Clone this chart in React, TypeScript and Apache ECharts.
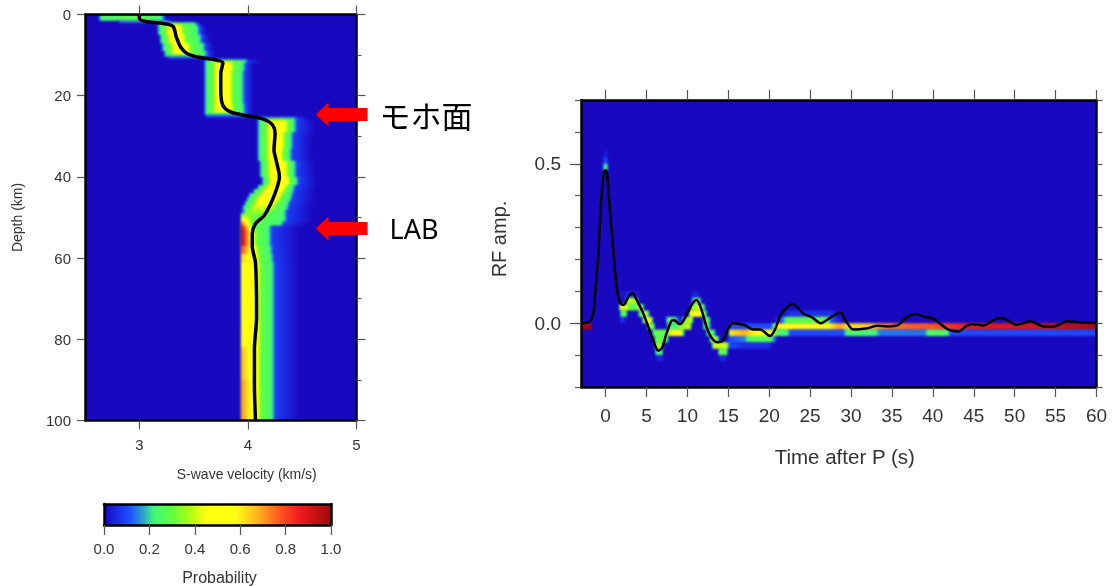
import React, { useEffect, useRef } from "react";
import * as echarts from "echarts";

// ---- colour scale ----
const probStops = [0, 0.08, 0.12, 0.18, 0.22, 0.3, 0.38, 0.45, 0.58, 0.68, 0.78, 0.86, 1];
const probColors = ["#1808c0", "#1c38f0", "#2058ff", "#30b0c0", "#40f878", "#60ff40", "#b0ff10", "#ffff10", "#ffff10", "#ffb020", "#ff5020", "#f01c20", "#a00808"];
const colorTicks = [0, 0.2, 0.4, 0.6, 0.8, 1];

// ---- velocity model panel: black profile ----
const profileV = [3.0, 3.0, 3.07, 3.22, 3.31, 3.34, 3.38, 3.44, 3.56, 3.69, 3.77, 3.75, 3.75, 3.77, 3.84, 3.96, 4.12, 4.22, 4.25, 4.24, 4.26, 4.29, 4.26, 4.21, 4.15, 4.07, 4.04, 4.04, 4.04, 4.07, 4.08, 4.06, 4.06, 4.07];
const profileD = [0.2, 1, 1.8, 2.2, 2.9, 5.5, 8, 9.6, 10.6, 11.1, 11.9, 14.5, 18.7, 22.4, 24, 24.8, 25.6, 27, 29.3, 33.4, 35.9, 40, 43.3, 46.6, 49.5, 51.5, 54, 54.7, 57.1, 61.2, 74.4, 82.6, 90.8, 100];

// ---- velocity model panel: probability bands, one entry per depth row ----
const bandTop =    [0, 1.4, 1.9, 2.4, 3, 5, 7, 9, 9.8, 10.3, 10.8, 11.2, 11.8, 14, 18, 22, 24, 24.6, 25.2, 25.6, 26.2, 29, 33, 36, 40, 42, 43, 44, 45, 46, 47, 48, 49, 50, 51, 52, 53, 57, 59, 61, 77, 82, 90];
const bandBottom = [1.4, 1.9, 2.4, 3, 5, 7, 9, 9.8, 10.3, 10.8, 11.2, 11.8, 14, 18, 22, 24, 24.6, 25.2, 25.6, 26.2, 29, 33, 36, 40, 42, 43, 44, 45, 46, 47, 48, 49, 50, 51, 52, 53, 57, 59, 61, 77, 82, 90, 100];
const bandStart =  [2.62, 2.8, 3.14, 3.16, 3.16, 3.18, 3.2, 3.22, 3.22, 3.25, 3.58, 3.59, 3.59, 3.59, 3.59, 3.59, 3.59, 3.6, 4.05, 4.08, 4.08, 4.08, 4.08, 4.1, 4.12, 4.08, 4.04, 4.0, 3.98, 3.96, 3.94, 3.93, 3.93, 3.93, 3.93, 3.93, 3.93, 3.93, 3.93, 3.93, 3.93, 3.93, 3.93];
const bandCoreL =  [2.88, 2.95, 3.27, 3.27, 3.27, 3.29, 3.32, 3.33, 3.33, 3.33, 3.65, 3.7, 3.71, 3.71, 3.71, 3.71, 3.71, 3.71, 4.12, 4.2, 4.2, 4.2, 4.2, 4.21, 4.22, 4.19, 4.16, 4.13, 4.1, 4.08, 4.06, 4.0, 3.94, 3.94, 3.94, 3.94, 3.94, 3.94, 3.94, 3.94, 3.94, 3.94, 3.94];
const bandCoreR =  [3.0, 3.05, 3.33, 3.37, 3.38, 3.4, 3.44, 3.46, 3.46, 3.46, 3.75, 3.84, 3.84, 3.83, 3.83, 3.84, 3.84, 3.84, 4.3, 4.33, 4.34, 4.31, 4.3, 4.34, 4.36, 4.33, 4.31, 4.29, 4.27, 4.24, 4.22, 4.15, 4.1, 4.05, 4.0, 4.03, 4.05, 4.07, 4.08, 4.09, 4.09, 4.09, 4.09];
const bandEnd =    [3.2, 3.25, 3.5, 3.52, 3.53, 3.55, 3.58, 3.6, 3.6, 3.6, 3.95, 3.97, 3.95, 3.94, 3.94, 3.95, 3.95, 3.95, 4.42, 4.42, 4.42, 4.39, 4.38, 4.42, 4.44, 4.41, 4.4, 4.39, 4.38, 4.36, 4.35, 4.33, 4.33, 4.33, 4.3, 4.19, 4.19, 4.2, 4.21, 4.22, 4.22, 4.22, 4.22];
const bandPeakL =  [0.28, 0.15, 0.25, 0.45, 0.5, 0.5, 0.5, 0.5, 0.3, 0.12, 0.1, 0.35, 0.5, 0.5, 0.5, 0.5, 0.3, 0.12, 0.15, 0.35, 0.5, 0.5, 0.5, 0.5, 0.5, 0.5, 0.5, 0.5, 0.5, 0.45, 0.42, 0.35, 0.36, 0.58, 0.78, 0.95, 0.97, 0.8, 0.65, 0.52, 0.6, 0.68, 0.72];
const bandPeakR =  [0.28, 0.15, 0.25, 0.45, 0.5, 0.5, 0.5, 0.5, 0.3, 0.12, 0.1, 0.35, 0.5, 0.5, 0.5, 0.5, 0.3, 0.12, 0.15, 0.35, 0.5, 0.5, 0.5, 0.5, 0.5, 0.5, 0.5, 0.5, 0.5, 0.45, 0.42, 0.35, 0.3, 0.28, 0.5, 0.45, 0.45, 0.45, 0.45, 0.46, 0.46, 0.46, 0.46];
const bandTail =   [3.25, 3.3, 3.55, 3.6, 3.62, 3.65, 3.68, 3.7, 3.7, 3.7, 4.0, 4.12, 4.05, 4.05, 4.05, 4.05, 4.05, 4.05, 4.55, 4.58, 4.62, 4.6, 4.6, 4.62, 4.64, 4.64, 4.62, 4.62, 4.62, 4.62, 4.6, 4.6, 4.6, 4.6, 4.55, 4.5, 4.48, 4.48, 4.48, 4.48, 4.48, 4.48, 4.48];

// ---- receiver function panel: black trace ----
const rfTime = [-3, -2, -1.5, -1.3, -0.9, -0.5, -0.2, 0, 0.2, 0.5, 0.95, 1.35, 1.75, 2.2, 2.8, 3.3, 3.8, 4.6, 5.2, 5.8, 6.45, 6.9, 7.4, 8, 8.3, 9.1, 9.7, 10.5, 11.1, 11.6, 12.4, 13, 13.7, 14.4, 15, 15.6, 16.9, 18.1, 18.9, 20.1, 20.7, 21.5, 22.9, 24.2, 25.2, 26.3, 27.4, 28.7, 29.3, 30.3, 32, 33.2, 34.4, 35.8, 36.8, 37.9, 38.9, 40.1, 40.9, 41.9, 43.2, 44, 44.8, 46.2, 47.2, 48.3, 49.3, 50.2, 51.9, 53.6, 54.8, 56.4, 58, 60];
const rfAmp = [0, 0.005, 0.03, 0.083, 0.21, 0.396, 0.47, 0.48, 0.464, 0.365, 0.23, 0.115, 0.065, 0.057, 0.083, 0.094, 0.073, 0.031, -0.01, -0.052, -0.086, -0.078, -0.036, 0.005, 0.01, -0.003, 0.016, 0.057, 0.073, 0.052, -0.016, -0.047, -0.06, -0.052, -0.016, 0, -0.005, -0.02, -0.02, -0.04, -0.02, 0.03, 0.06, 0.03, 0.019, 0, 0.016, 0.034, 0.01, -0.02, -0.016, -0.008, -0.01, -0.005, 0.019, 0.029, 0.021, 0.014, -0.002, -0.02, -0.026, -0.01, -0.003, -0.007, 0.007, 0.017, 0.007, -0.005, 0.006, -0.01, -0.01, 0.006, 0.003, 0.001];

// ---- receiver function panel: probability, [time, probability] knots per amplitude row ----
const rowLow = [0.52, 0.5, 0.48, 0.08, 0.06, 0.04, 0.02, 0, -0.02, -0.04, -0.06, -0.08, -0.1, -0.12];
const rowKnots = [
  [[-0.3, 0], [0, 0.05], [0.3, 0]],
  [[-0.4, 0], [0, 0.12], [0.4, 0]],
  [[-0.4, 0], [-0.1, 0.28], [0.1, 0.28], [0.4, 0]],
  [[1.5, 0], [3, 0.06], [4.5, 0], null, [10.4, 0], [11, 0.06], [11.6, 0]],
  [[2.4, 0], [2.7, 0.36], [3.7, 0.4], [4.1, 0], null, [10.4, 0], [10.8, 0.25], [11.5, 0.25], [11.8, 0]],
  [[1.6, 0], [1.8, 0.42], [2.6, 0.42], [3, 0.28], [3.7, 0.28], [4, 0.38], [4.5, 0.3], [4.8, 0], null, [10.3, 0], [10.6, 0.35], [11.5, 0.42], [12, 0.25], [12.3, 0]],
  [[1.7, 0], [1.9, 0.25], [2.5, 0.3], [2.7, 0], null, [3.9, 0], [4.2, 0.3], [5, 0.4], [5.5, 0], null, [10.1, 0], [10.4, 0.45], [11.5, 0.45], [12.2, 0.3], [12.5, 0], null, [21.5, 0], [22.5, 0.07], [27.5, 0.07], [28.5, 0]],
  [[1.7, 0], [2, 0.08], [2.6, 0], null, [4.4, 0], [4.7, 0.4], [5.5, 0.45], [5.9, 0], null, [7.3, 0], [7.6, 0.28], [8.6, 0.2], [9, 0.05], [9.4, 0.1], [9.7, 0.35], [10.5, 0.4], [10.8, 0], null, [11.8, 0], [12.1, 0.3], [12.6, 0.3], [12.9, 0], null, [20.5, 0], [21.5, 0.1], [22.2, 0.28], [27, 0.28], [27.6, 0.12], [29, 0]],
  [[-3, 1], [-1.7, 1], null, [5, 0], [5.3, 0.35], [5.9, 0.3], [6.1, 0], null, [7.4, 0], [7.7, 0.25], [8.6, 0.22], [9.5, 0.38], [10.3, 0.4], [10.6, 0], null, [11.8, 0], [12.1, 0.28], [12.6, 0.25], [13, 0], null, [15, 0], [15.4, 0.1], [20.2, 0.1], [20.7, 0.3], [21.2, 0.6], [23, 0.55], [25, 0.5], [26, 0.48], [27.5, 0.6], [28.5, 0.7], [29.5, 0.62], [32, 0.65], [35, 0.75], [40, 0.78], [42, 0.82], [45, 0.88], [50, 0.9], [55, 0.93], [60, 0.98]],
  [[5.6, 0], [5.9, 0.3], [6.5, 0.3], [7, 0.28], [7.6, 0.32], [8.2, 0.5], [9.2, 0.5], [9.6, 0.15], [9.8, 0], null, [12.2, 0], [12.5, 0.28], [13.2, 0.25], [13.6, 0], null, [15, 0], [15.3, 0.6], [16, 0.65], [17, 0.68], [18, 0.6], [19, 0.52], [20, 0.55], [20.6, 0.4], [21.2, 0.22], [22.2, 0.22], [22.6, 0.1], [29, 0.1], [29.5, 0.24], [33, 0.22], [33.6, 0.14], [39, 0.14], [39.5, 0.25], [41.7, 0.25], [42.2, 0.1], [60, 0.1]],
  [[5.9, 0], [6.1, 0.3], [7.5, 0.28], [7.8, 0], null, [12.6, 0], [13, 0.4], [13.6, 0.35], [14, 0], null, [15, 0.1], [17, 0.15], [17.5, 0.25], [20, 0.28], [20.6, 0.15], [21, 0]],
  [[5.9, 0], [6.2, 0.38], [6.9, 0.35], [7.1, 0], null, [13, 0.1], [13.2, 0.4], [14.8, 0.4], [15.1, 0.1], [17, 0.06], [20, 0.06], [20.5, 0]],
  [[6, 0], [6.2, 0.25], [6.9, 0.25], [7.1, 0], null, [13.7, 0], [13.9, 0.3], [14.8, 0.3], [15, 0]],
  [[6.1, 0], [6.3, 0.05], [6.9, 0.05], [7.1, 0], null, [13.8, 0], [14, 0.05], [14.7, 0.05], [14.9, 0]],
];

// ---- axes ----
const velTicks = [3, 4, 5];
const depthMajor = [0, 20, 40, 60, 80, 100];
const depthMinor = [10, 30, 50, 70, 90];
const timeTicks = [0, 5, 10, 15, 20, 25, 30, 35, 40, 45, 50, 55, 60];
const ampLabels = [0, 0.5];
const ampTicks = [-0.2, -0.1, 0, 0.1, 0.2, 0.3, 0.4, 0.5, 0.6, 0.7];

const FONT = "'Liberation Sans', Arial, sans-serif";
const TEXT = "#333333";
const TICK = "#555555";
const DEEP = "#1808c0";

function probColor(p: number) {
  const c = Math.max(0, Math.min(1, p));
  let i = 0;
  while (i < probStops.length - 2 && c > probStops[i + 1]) i++;
  const t = (c - probStops[i]) / (probStops[i + 1] - probStops[i]);
  const hex = (s: string) => [1, 3, 5].map((k) => parseInt(s.slice(k, k + 2), 16));
  const a = hex(probColors[i]);
  const b = hex(probColors[i + 1]);
  const m = a.map((v, k) => Math.round(v + (b[k] - v) * t));
  return `rgb(${m[0]},${m[1]},${m[2]})`;
}

// Gradient stops along [x, p] knots; the colour scale is sampled inside each stretch.
function gradient(knots: number[][]) {
  const x0 = knots[0][0];
  const span = knots[knots.length - 1][0] - x0 || 1;
  const colorStops: { offset: number; color: string }[] = [];
  for (let i = 0; i < knots.length - 1; i++) {
    const [xa, pa] = knots[i];
    const [xb, pb] = knots[i + 1];
    const n = 8;
    for (let k = 0; k <= n; k++) {
      const f = k / n;
      const off = (xa + (xb - xa) * f - x0) / span;
      colorStops.push({ offset: Math.max(0, Math.min(1, off)), color: probColor(pa + (pb - pa) * f) });
    }
  }
  return { type: "linear", x: 0, y: 0, x2: 1, y2: 0, colorStops };
}

function bandKnots(i: number) {
  const pl = bandPeakL[i];
  const pr = bandPeakR[i];
  const knots: number[][] = [[bandStart[i], 0]];
  if (bandCoreL[i] - bandStart[i] > 0.08) {
    knots.push([bandStart[i] + 0.025, Math.min(0.23, pl)], [bandCoreL[i] - 0.03, Math.min(0.3, pl)]);
  }
  knots.push([bandCoreL[i], pl], [bandCoreR[i], pr]);
  if (bandEnd[i] - bandCoreR[i] > 0.08) knots.push([bandCoreR[i] + 0.03, Math.min(0.3, pr)]);
  knots.push([bandEnd[i], Math.min(0.23, pr)], [bandEnd[i] + 0.035, Math.min(0.085, pr)], [bandTail[i], 0]);
  return knots;
}

const rfSegments: { low: number; knots: number[][] }[] = [];
rowKnots.forEach((row: any[], r) => {
  let cur: number[][] = [];
  row.forEach((k) => {
    if (k === null) {
      rfSegments.push({ low: rowLow[r], knots: cur });
      cur = [];
    } else cur.push(k);
  });
  if (cur.length) rfSegments.push({ low: rowLow[r], knots: cur });
});

const hiddenAxis = { axisLabel: { show: false }, splitLine: { show: false } };
const line = { show: true, onZero: false, lineStyle: { color: "#000", width: 2.5 } };
const noLine = { show: false, onZero: false };
const ticks = (values: number[], length: number, width = 1.2) => ({
  show: true,
  length,
  customValues: values,
  lineStyle: { color: TICK, width },
});

const plotGrids = [
  { left: 85, top: 14.5, width: 271.5, height: 406 },
  { left: 581, top: 100, width: 515.5, height: 287 },
];

function App() {
  const heatRef = useRef<HTMLDivElement>(null);
  const ref = useRef<HTMLDivElement>(null);
  useEffect(() => {
    // Soft probability images, underneath.
    const heat = echarts.init(heatRef.current!, null, { renderer: "svg" });
    const hidden = { type: "value", show: false };
    heat.setOption({
      animation: false,
      grid: plotGrids,
      xAxis: [
        { ...hidden, gridIndex: 0, min: 2.5, max: 5 },
        { ...hidden, gridIndex: 1, min: -3, max: 60 },
      ],
      yAxis: [
        { ...hidden, gridIndex: 0, min: 0, max: 100, inverse: true },
        { ...hidden, gridIndex: 1, min: -0.2, max: 0.7 },
      ],
      series: [
        {
          type: "custom", xAxisIndex: 0, yAxisIndex: 0, silent: true,
          data: bandTop.map((t, i) => [bandStart[i], t, i]),
          renderItem: (_p: any, api: any) => {
            const i = api.value(2);
            const k = bandKnots(i);
            const a = api.coord([k[0][0], bandTop[i]]);
            const b = api.coord([k[k.length - 1][0], bandBottom[i]]);
            return {
              type: "rect",
              shape: { x: a[0], y: a[1], width: b[0] - a[0], height: b[1] - a[1] + 0.5 },
              style: { fill: gradient(k) },
            };
          },
        },
        {
          type: "custom", xAxisIndex: 1, yAxisIndex: 1, silent: true,
          data: rfSegments.map((s, i) => [s.knots[0][0], s.low, i]),
          renderItem: (_p: any, api: any) => {
            const s = rfSegments[api.value(2)];
            const a = api.coord([s.knots[0][0], s.low + 0.02]);
            const b = api.coord([s.knots[s.knots.length - 1][0], s.low]);
            return {
              type: "rect",
              shape: { x: a[0], y: a[1], width: b[0] - a[0], height: b[1] - a[1] },
              style: { fill: gradient(s.knots) },
            };
          },
        },
      ],
    });

    // Axes, traces, colour bar and annotations, on top.
    const chart = echarts.init(ref.current!, null, { renderer: "svg" });
    const axisBase = { type: "value", splitLine: { show: false }, z: 10 };
    const arrow = (y: number) => [
      [316, y], [328.5, y - 12], [328.5, y - 6.5], [367.5, y - 6.5], [367.5, y + 6.5], [328.5, y + 6.5], [328.5, y + 12],
    ];
    chart.setOption({
      animation: false,
      grid: [...plotGrids, { left: 104, top: 504, width: 227, height: 21 }],
      xAxis: [
        {
          ...axisBase, gridIndex: 0, min: 2.5, max: 5, position: "bottom", axisLine: line,
          axisTick: ticks(velTicks, 9),
          axisLabel: { customValues: velTicks, margin: 16, fontSize: 15, color: TEXT, fontFamily: FONT, hideOverlap: false },
          name: "S-wave velocity (km/s)", nameLocation: "center", nameGap: 46,
          nameTextStyle: { fontSize: 14, color: TEXT, fontFamily: FONT, padding: [0, 0, 0, 52] },
        },
        { ...axisBase, ...hiddenAxis, gridIndex: 0, min: 2.5, max: 5, position: "top", axisLine: line, axisTick: ticks(velTicks, 9) },
        {
          ...axisBase, gridIndex: 1, min: -3, max: 60, position: "bottom", axisLine: line,
          axisTick: ticks(timeTicks, 10),
          axisLabel: { customValues: timeTicks, margin: 19, fontSize: 19, color: TEXT, fontFamily: FONT, hideOverlap: false },
          name: "Time after P (s)", nameLocation: "center", nameGap: 59,
          nameTextStyle: { fontSize: 20.5, color: TEXT, fontFamily: FONT, padding: [0, 0, 0, 12] },
        },
        { ...axisBase, ...hiddenAxis, gridIndex: 1, min: -3, max: 60, position: "top", axisLine: line, axisTick: ticks(timeTicks, 10) },
        {
          ...axisBase, gridIndex: 2, min: 0, max: 1, position: "bottom", axisLine: line,
          axisTick: ticks(colorTicks, 10),
          axisLabel: { customValues: colorTicks, margin: 16, fontSize: 15, color: TEXT, fontFamily: FONT, hideOverlap: false, formatter: (v: number) => v.toFixed(1) },
          name: "Probability", nameLocation: "center", nameGap: 44,
          nameTextStyle: { fontSize: 16, color: TEXT, fontFamily: FONT, padding: [0, 0, 0, 4] },
        },
        { ...axisBase, ...hiddenAxis, gridIndex: 2, min: 0, max: 1, position: "top", axisLine: line, axisTick: { show: false } },
      ],
      yAxis: [
        {
          ...axisBase, gridIndex: 0, min: 0, max: 100, inverse: true, position: "left", axisLine: line,
          axisTick: ticks(depthMajor, 8),
          axisLabel: { customValues: depthMajor, margin: 14, fontSize: 15, color: TEXT, fontFamily: FONT, hideOverlap: false },
          name: "Depth (km)", nameLocation: "center", nameGap: 61, nameRotate: 90,
          nameTextStyle: { fontSize: 14, color: TEXT, fontFamily: FONT },
        },
        { ...axisBase, ...hiddenAxis, gridIndex: 0, min: 0, max: 100, inverse: true, position: "right", axisLine: line, axisTick: ticks(depthMajor, 9) },
        { ...axisBase, ...hiddenAxis, gridIndex: 0, min: 0, max: 100, inverse: true, position: "right", axisLine: noLine, axisTick: ticks(depthMinor, 5) },
        {
          ...axisBase, gridIndex: 1, min: -0.2, max: 0.7, position: "left", axisLine: line,
          axisTick: ticks(ampLabels, 11),
          axisLabel: { customValues: ampLabels, margin: 20, fontSize: 19, color: TEXT, fontFamily: FONT, hideOverlap: false, formatter: (v: number) => v.toFixed(1) },
          name: "RF amp.", nameLocation: "center", nameGap: 72, nameRotate: 90,
          nameTextStyle: { fontSize: 20, color: TEXT, fontFamily: FONT, padding: [0, 0, 0, 9] },
        },
        { ...axisBase, ...hiddenAxis, gridIndex: 1, min: -0.2, max: 0.7, position: "left", axisLine: noLine, axisTick: ticks(ampTicks, 6) },
        { ...axisBase, ...hiddenAxis, gridIndex: 1, min: -0.2, max: 0.7, position: "right", axisLine: line, axisTick: ticks(ampTicks, 6) },
        { ...axisBase, ...hiddenAxis, gridIndex: 2, min: 0, max: 1, position: "left", axisLine: line, axisTick: { show: false } },
        { ...axisBase, ...hiddenAxis, gridIndex: 2, min: 0, max: 1, position: "right", axisLine: line, axisTick: { show: false } },
      ],
      series: [
        {
          type: "line", xAxisIndex: 0, yAxisIndex: 0, z: 5, symbol: "none", smooth: 0.3, silent: true,
          data: profileV.map((v, i) => [v, profileD[i]]),
          lineStyle: { color: "#000", width: 3.5 },
        },
        {
          type: "line", xAxisIndex: 2, yAxisIndex: 3, z: 5, symbol: "none", smooth: 0.3, silent: true,
          data: rfTime.map((t, i) => [t, rfAmp[i]]),
          lineStyle: { color: "#000", width: 2.5 },
        },
        {
          type: "custom", xAxisIndex: 4, yAxisIndex: 6, z: 2, silent: true,
          data: [[0, 0]],
          renderItem: (_p: any, api: any) => {
            const a = api.coord([0, 1]);
            const b = api.coord([1, 0]);
            return {
              type: "rect",
              shape: { x: a[0], y: a[1], width: b[0] - a[0], height: b[1] - a[1] },
              style: {
                fill: {
                  type: "linear", x: 0, y: 0, x2: 1, y2: 0,
                  colorStops: probStops.map((o, i) => ({ offset: o, color: probColors[i] })),
                },
              },
            };
          },
        },
      ],
      graphic: [
        { type: "polygon", z: 20, shape: { points: arrow(114.5) }, style: { fill: "#ff0000" } },
        { type: "polygon", z: 20, shape: { points: arrow(228.5) }, style: { fill: "#ff0000" } },
        {
          type: "text", z: 20, x: 426, y: 114,
          style: { text: "モホ面", fill: "#000", fontSize: 31, fontFamily: "'Noto Sans CJK JP'", align: "center", verticalAlign: "middle" },
        },
        {
          type: "text", z: 20, x: 414, y: 228,
          style: { text: "LAB", fill: "#000", fontSize: 27, fontFamily: "'Noto Sans'", align: "center", verticalAlign: "middle" },
        },
      ],
    });
    return () => {
      chart.dispose();
      heat.dispose();
    };
  }, []);
  return (
    <div style={{ position: "absolute", left: 0, top: 0, width: 1114, height: 586, background: "#fff" }}>
      <div
        ref={heatRef}
        style={{
          position: "absolute", left: 0, top: 0, width: 1114, height: 586, background: DEEP,
          filter: "blur(1.2px)",
          clipPath: "path('M85 14.5H356.5V420.5H85Z M581 100H1096.5V387H581Z')",
        }}
      />
      <div ref={ref} style={{ position: "absolute", left: 0, top: 0, width: 1114, height: 586, filter: "blur(0.6px)" }} />
    </div>
  );
}

export default App;
